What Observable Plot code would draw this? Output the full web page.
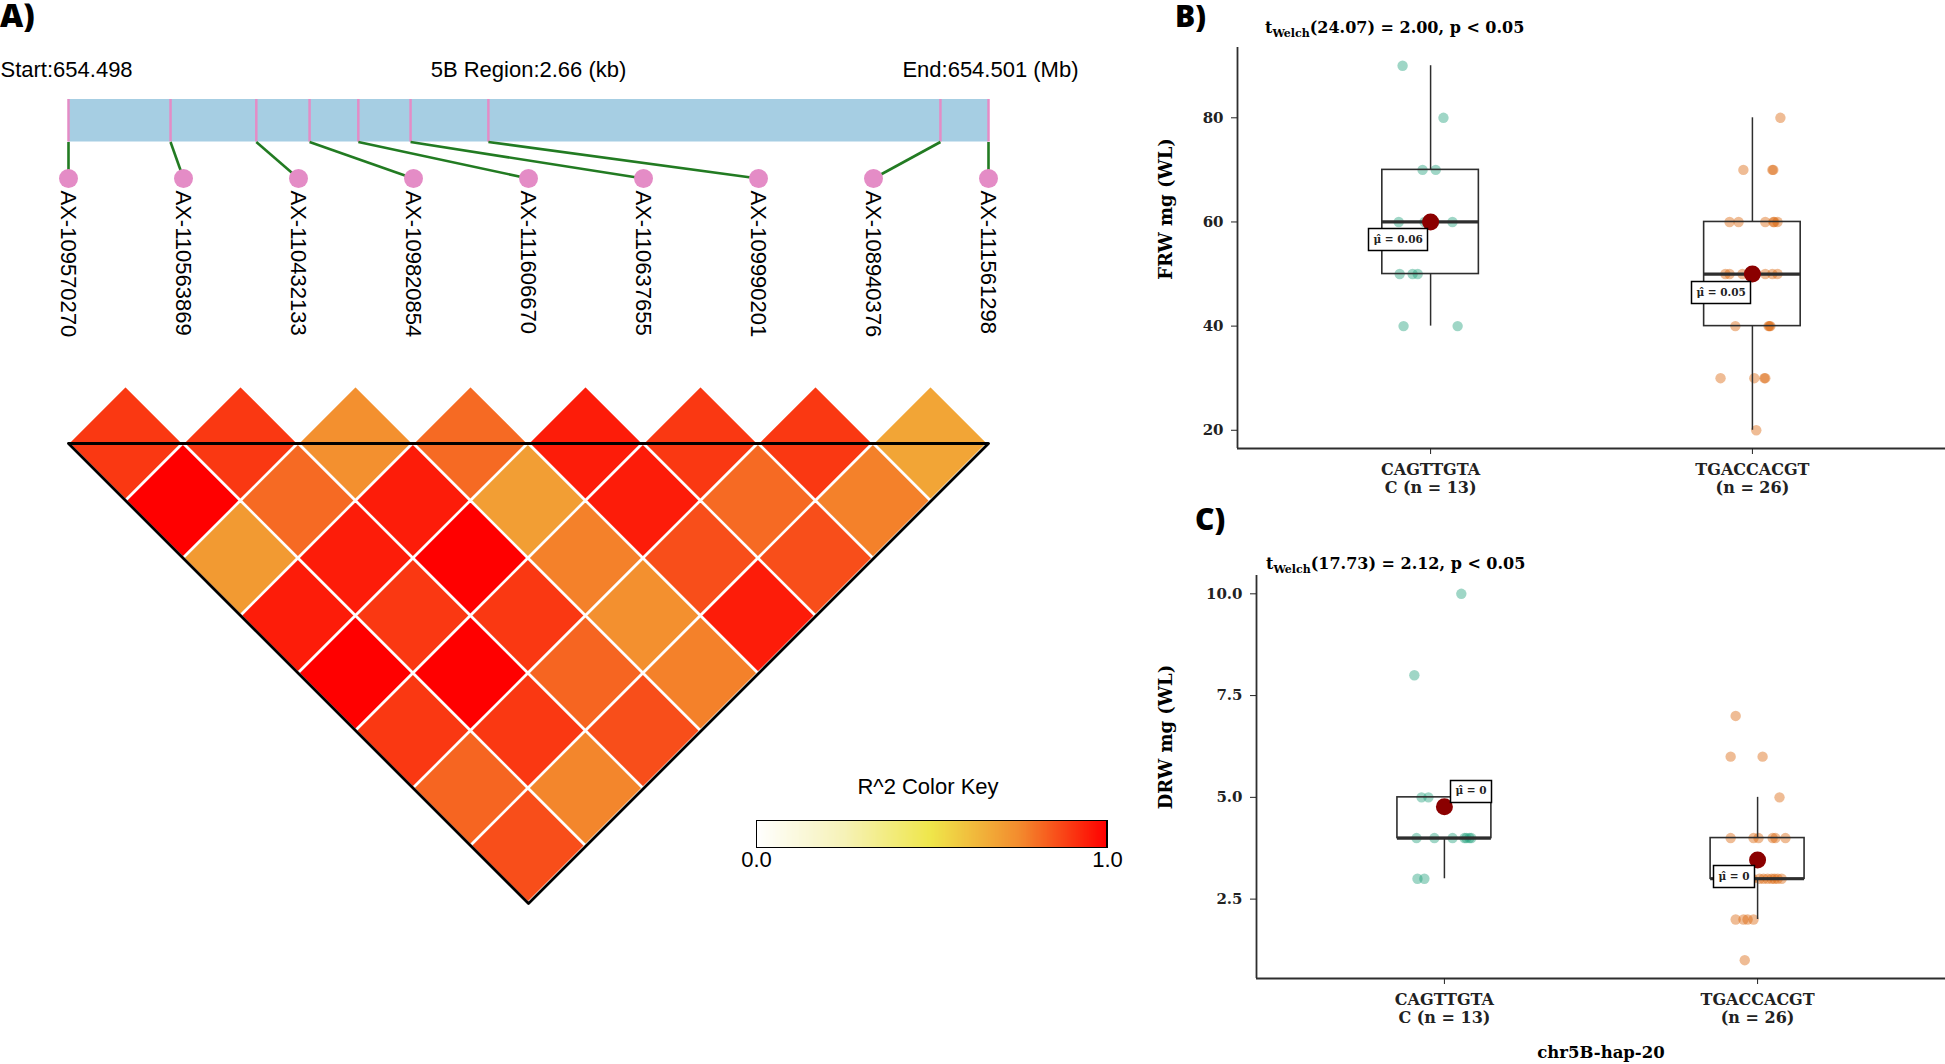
<!DOCTYPE html>
<html><head><meta charset="utf-8">
<script src="https://cdn.jsdelivr.net/npm/d3@7"></script>
<script src="https://cdn.jsdelivr.net/npm/@observablehq/plot@0.6"></script>
<style>
html,body{margin:0;padding:0;background:#fff;}
#page{position:relative;width:1945px;height:1064px;overflow:hidden;background:#fff;}
.abs{position:absolute;}
.letter{position:absolute;font-family:"Open Sans",sans-serif;font-weight:800;line-height:1.2;color:#000;white-space:nowrap;}
.ttl{position:absolute;font-family:"DejaVu Serif",serif;font-weight:bold;font-size:16px;line-height:1;white-space:nowrap;color:#000;}
.ttl .sub{font-size:11px;position:relative;top:4px;}
.keytitle{position:absolute;font-family:"Liberation Sans",Arial,sans-serif;font-size:22px;line-height:1;text-align:center;color:#000;white-space:nowrap;}
.keybox{position:absolute;border:1.3px solid #000;box-sizing:border-box;}
</style></head>
<body><div id="page"></div>
<script>
// ---------------- DATA ----------------
const snpLabels = ["AX-109570270","AX-110563869","AX-110432133","AX-109820854","AX-111606670","AX-110637655","AX-109990201","AX-108940376","AX-111561298"];
const regionStart = 654498340;
const regionEnd = 654501000;
const snpPositions = [654498340, 654498635, 654498883, 654499037, 654499178, 654499329, 654499554, 654500861, 654501000];
const chromosome = "5B";
// LD r^2: ldR2[i][k] = r^2 between SNP i and SNP i+k+1
const ldR2 = [
  [0.90, 1.00, 0.71, 0.95, 1.00, 0.90, 0.82, 0.86],
  [0.90, 0.81, 0.95, 0.90, 1.00, 0.90, 0.76],
  [0.74, 0.95, 1.00, 0.90, 0.82, 0.86],
  [0.81, 0.70, 0.77, 0.74, 0.77],
  [0.95, 0.95, 0.86, 0.95],
  [0.90, 0.81, 0.86],
  [0.90, 0.77],
  [0.68]
];
const keyStops = [0, 0.25, 0.5, 0.75, 1];
const keyColors = ["#ffffff", "#f6f2b8", "#efe64a", "#f38c2e", "#ff0000"];

const haplotypes = ["CAGTTGTAC", "TGACCACGT"];
const tickLabels = ["CAGTTGTA\nC (n = 13)", "TGACCACGT\n(n = 26)"];
const groupColors = ["#1b9e77", "#d95f02"];

const frwG1 = [90,80,70,70,60,60,60,60,50,50,50,40,40];
const frwJit1 = [-0.087,0.040,-0.025,0.016,-0.099,-0.019,0.012,0.068,-0.096,-0.056,-0.040,-0.084,0.084];
const frwG2 = [80,70,70,70,60,60,60,60,60,60,50,50,50,50,50,50,50,40,40,40,40,30,30,30,30,20];
const frwJit2 = [0.087,-0.028,0.062,0.065,-0.071,-0.043,0.040,0.065,0.068,0.078,-0.084,-0.071,-0.031,0.000,0.040,0.062,0.078,-0.053,0.050,0.053,0.056,-0.099,0.006,0.037,0.040,0.012];
const frwMeanLabels = ["\u03BC\u0302 = 0.06", "\u03BC\u0302 = 0.05"];
const frwTitle = ["(24.07) = 2.00, p < 0.05"];

const drwG1 = [10,8,5,5,4,4,4,4,4,4,4,3,3];
const drwJit1 = [0.054,-0.096,-0.073,-0.051,-0.089,-0.032,0.026,0.064,0.070,0.080,0.086,-0.086,-0.064];
const drwG2 = [7,6,6,5,4,4,4,4,4,4,3,3,3,3,3,3,3,3,3,3,3,2,2,2,2,1];
const drwJit2 = [-0.070,-0.086,0.016,0.070,-0.086,-0.013,0.003,0.048,0.057,0.089,-0.096,-0.064,-0.038,-0.016,0.006,0.019,0.032,0.045,0.054,0.064,0.077,-0.070,-0.045,-0.032,-0.013,-0.041];
const drwMeanLabels = ["\u03BC\u0302 = 0", "\u03BC\u0302 = 0"];
const drwTitle = ["(17.73) = 2.12, p < 0.05"];

// ---------------- LAYOUT / STYLE ----------------
const page = document.getElementById("page");
function place(el, left, top) {
  const d = document.createElement("div");
  d.className = "abs"; d.style.left = left + "px"; d.style.top = top + "px";
  d.appendChild(el); page.appendChild(d); return d;
}
const nSnp = snpLabels.length;
const toU = p => (p - regionStart) / (regionEnd - regionStart) * (nSnp - 1);
const snps = snpLabels.map((label, i) => ({label, i, u: toU(snpPositions[i])}));
const xA = {domain: [0, nSnp - 1], range: [68, 988], axis: null};
const MAP = {header: 69.5, barTop: 99, barBottom: 141.5, dot: 178, label: 190};
const PINK = "#e48cc6", GREEN = "#227b22", BLUE = "#a6cee3";
const colorScale = {type: "linear", domain: keyStops, range: keyColors, interpolate: "rgb"};

// ---------------- PANEL A: gene map ----------------
const fmt3 = d3.format(".3f");
const mapPlot = Plot.plot({
  width: 1140, height: 360, margin: 0,
  x: xA, y: {type: "identity", axis: null},
  style: {fontFamily: "'Liberation Sans', Arial, sans-serif", fontSize: "22px", background: "transparent", overflow: "visible"},
  marks: [
    Plot.text([`Start:${fmt3(regionStart / 1e6)}`], {frameAnchor: "left", y: MAP.header, textAnchor: "start", fill: "black"}),
    Plot.text([`${chromosome} Region:${((regionEnd - regionStart) / 1000).toFixed(2)} (kb)`], {x: (nSnp - 1) / 2, y: MAP.header, fill: "black"}),
    Plot.text([`End:${fmt3(regionEnd / 1e6)} (Mb)`], {x: nSnp - 1, dx: 90, y: MAP.header, textAnchor: "end", fill: "black"}),
    Plot.rect([{s: regionStart, e: regionEnd}], {x1: d => toU(d.s), x2: d => toU(d.e), y1: MAP.barTop, y2: MAP.barBottom, fill: BLUE}),
    Plot.ruleX(snps, {x: "u", y1: MAP.barTop, y2: MAP.barBottom, stroke: PINK, strokeWidth: 2.5}),
    Plot.link(snps, {x1: "u", y1: MAP.barBottom, x2: "i", y2: MAP.dot, stroke: GREEN, strokeWidth: 2.6}),
    Plot.dot(snps, {x: "i", y: MAP.dot, r: 9.5, fill: PINK}),
    Plot.text(snps, {x: "i", y: MAP.label, text: "label", rotate: 90, textAnchor: "start", fill: "black"})
  ]
});
place(mapPlot, 0, 0);

// ---------------- PANEL A: LD heatmap ----------------
const cells = [];
ldR2.forEach((row, i) => row.forEach((r2, k) => { const j = i + k + 1; cells.push({id: i + "-" + j, i, j, r2}); }));
const diamondPts = cells.flatMap(c => {
  const cx = (c.i + c.j) / 2, cy = c.j - c.i - 1;
  return [
    {id: c.id, r2: c.r2, x: cx - 0.5, y1: cy, y2: cy},
    {id: c.id, r2: c.r2, x: cx, y1: cy - 1, y2: cy + 1},
    {id: c.id, r2: c.r2, x: cx + 0.5, y1: cy, y2: cy}
  ];
});
const outline = [{x: 0, y: 0}, {x: (nSnp - 1) / 2, y: nSnp - 1}, {x: nSnp - 1, y: 0}, {x: 0, y: 0}];
const ldPlot = Plot.plot({
  width: 1140, height: 930, margin: 0,
  x: xA, y: {domain: [0, nSnp - 1], range: [443, 903], axis: null},
  color: colorScale,
  style: {background: "transparent", overflow: "visible"},
  marks: [
    Plot.areaY(diamondPts, {x: "x", y1: "y1", y2: "y2", z: "id", fill: "r2", stroke: "white", strokeWidth: 2.5, curve: "linear"}),
    Plot.line(outline, {x: "x", y: "y", stroke: "black", strokeWidth: 2.8, curve: "linear"})
  ]
});
place(ldPlot, 0, 0);

// color key
const keyLegend = Plot.legend({
  color: colorScale, label: null, ticks: [0, 1], tickFormat: d3.format(".1f"), tickSize: 0,
  width: 391, height: 58, marginLeft: 20, marginRight: 20, marginTop: 0, marginBottom: 30,
  style: {fontFamily: "'Liberation Sans', Arial, sans-serif", fontSize: "22px", color: "black", background: "transparent"}
});
place(keyLegend, 736, 820);
const kb = document.createElement("div"); kb.className = "keybox";
kb.style.cssText = "left:756px;top:820px;width:351px;height:28px;"; page.appendChild(kb);
const kt = document.createElement("div"); kt.className = "keytitle";
kt.style.cssText = "left:778px;top:776px;width:300px;"; kt.textContent = "R^2 Color Key"; page.appendChild(kt);

// ---------------- PANELS B / C ----------------
const AX = "#2e2e2e";
function boxPanel(cfg) {
  const xDomain = [0.4, 2.6];
  const pts = cfg.values.flatMap((vals, g) => vals.map((v, k) => ({g, x: g + 1 + cfg.jitter[g][k], y: v})));
  const stats = cfg.values.map((vals, g) => {
    const s = d3.sort(vals);
    const q1 = d3.quantile(s, 0.25), med = d3.quantile(s, 0.5), q3 = d3.quantile(s, 0.75), iqr = q3 - q1;
    return {g, x: g + 1, q1, med, q3,
      lo: d3.min(s.filter(v => v >= q1 - 1.5 * iqr)), hi: d3.max(s.filter(v => v <= q3 + 1.5 * iqr)),
      mean: d3.mean(s), label: cfg.meanLabels[g]};
  });
  const hw = 0.15;
  const marks = [
    ...haplotypes.map((h, g) => Plot.dot(pts.filter(d => d.g === g), {x: "x", y: "y", r: 5.2, fill: groupColors[g], fillOpacity: 0.42})),
    Plot.ruleX(stats, {x: "x", y1: "q3", y2: "hi", stroke: AX, strokeWidth: 1.5}),
    Plot.ruleX(stats, {x: "x", y1: "lo", y2: "q1", stroke: AX, strokeWidth: 1.5}),
    Plot.rect(stats, {x1: d => d.x - hw, x2: d => d.x + hw, y1: "q1", y2: "q3", fill: "none", stroke: AX, strokeWidth: 1.6}),
    Plot.ruleY(stats, {y: "med", x1: d => d.x - hw, x2: d => d.x + hw, stroke: AX, strokeWidth: 3.2}),
    Plot.ruleX([xDomain[0]], {y1: cfg.yDomain[0], y2: cfg.yDomain[1], stroke: AX, strokeWidth: 1.8}),
    Plot.ruleY([cfg.yDomain[0]], {x1: xDomain[0], x2: xDomain[1], stroke: AX, strokeWidth: 1.8}),
    Plot.axisY({ticks: cfg.yTicks, tickFormat: cfg.yFormat, tickSize: 6, tickPadding: 8, label: null, fontSize: 15}),
    Plot.axisX({ticks: [1, 2], tickFormat: d => tickLabels[d - 1], tickSize: 6, tickPadding: 7, fontSize: 16, lineHeight: 1.15, label: null}),
    Plot.dot(stats, {x: "x", y: "mean", r: 8.5, fill: "#8b0000"}),
    ...stats.map((s, g) => Plot.tip([s], {x: "x", y: "mean", title: "label", anchor: cfg.tips[g].anchor, dx: cfg.tips[g].dx, dy: cfg.tips[g].dy,
      pointerSize: 0, fill: "white", stroke: "black", strokeWidth: 1.5, fontSize: 10.5, fontFamily: "DejaVu Serif", fontWeight: "bold", textPadding: 5, pathFilter: "none"})),
    Plot.text([cfg.yLabel], {frameAnchor: "left", textAnchor: "middle", rotate: -90, dx: cfg.yLabelDx, dy: cfg.yLabelDy, fontSize: 18, fill: "black"})
  ];
  if (cfg.xTitle) marks.push(Plot.text([cfg.xTitle], {frameAnchor: "bottom", textAnchor: "middle", dy: cfg.xTitleDy, fontSize: 16.5, fill: "black"}));
  return Plot.plot({
    width: cfg.width, height: cfg.height,
    marginLeft: cfg.marginLeft, marginRight: 0, marginTop: cfg.marginTop, marginBottom: cfg.marginBottom,
    x: {domain: xDomain}, y: {domain: cfg.yDomain},
    style: {fontFamily: "'DejaVu Serif', serif", fontWeight: "bold", fontSize: "15px", color: "#222", background: "transparent", overflow: "visible"},
    marks
  });
}

const panelB = boxPanel({
  values: [frwG1, frwG2], jitter: [frwJit1, frwJit2], meanLabels: frwMeanLabels,
  yDomain: [16.5, 93.5], yTicks: [20, 40, 60, 80], yFormat: d3.format("d"),
  yLabel: "FRW mg (WL)", yLabelDx: -71, yLabelDy: -39,
  tips: [{anchor: "top-right", dx: -3, dy: 7}, {anchor: "top-right", dx: -2, dy: 7}],
  width: 845, height: 520, marginLeft: 137, marginTop: 47, marginBottom: 72
});
place(panelB, 1100, 0);

const panelC = boxPanel({
  values: [drwG1, drwG2], jitter: [drwJit1, drwJit2], meanLabels: drwMeanLabels,
  yDomain: [0.55, 10.45], yTicks: [2.5, 5, 7.5, 10], yFormat: d3.format(".1f"),
  yLabel: "DRW mg (WL)", yLabelDx: -90, yLabelDy: -40, xTitle: "chr5B-hap-20", xTitleDy: 79,
  tips: [{anchor: "bottom-left", dx: 6, dy: -4}, {anchor: "top-right", dx: -3, dy: 6}],
  width: 845, height: 564, marginLeft: 156, marginTop: 75, marginBottom: 86
});
place(panelC, 1100, 500);

// ---------------- text overlays ----------------
function addDiv(cls, left, top, html, extra) {
  const d = document.createElement("div"); d.className = cls;
  d.style.left = left + "px"; d.style.top = top + "px"; if (extra) d.style.cssText += extra;
  d.innerHTML = html; page.appendChild(d); return d;
}
addDiv("letter", 0, -3.6, "A)", "font-size:32px;");
addDiv("letter", 1175, -1.6, "B)", "font-size:30px;");
addDiv("letter", 1195, 501.4, "C)", "font-size:30px;");
const esc = s => s.replace(/&/g, "&amp;").replace(/</g, "&lt;");
addDiv("ttl", 1265, 20, "t<span class='sub'>Welch</span>" + esc(frwTitle[0]));
addDiv("ttl", 1266, 556, "t<span class='sub'>Welch</span>" + esc(drwTitle[0]));
</script></body></html>
